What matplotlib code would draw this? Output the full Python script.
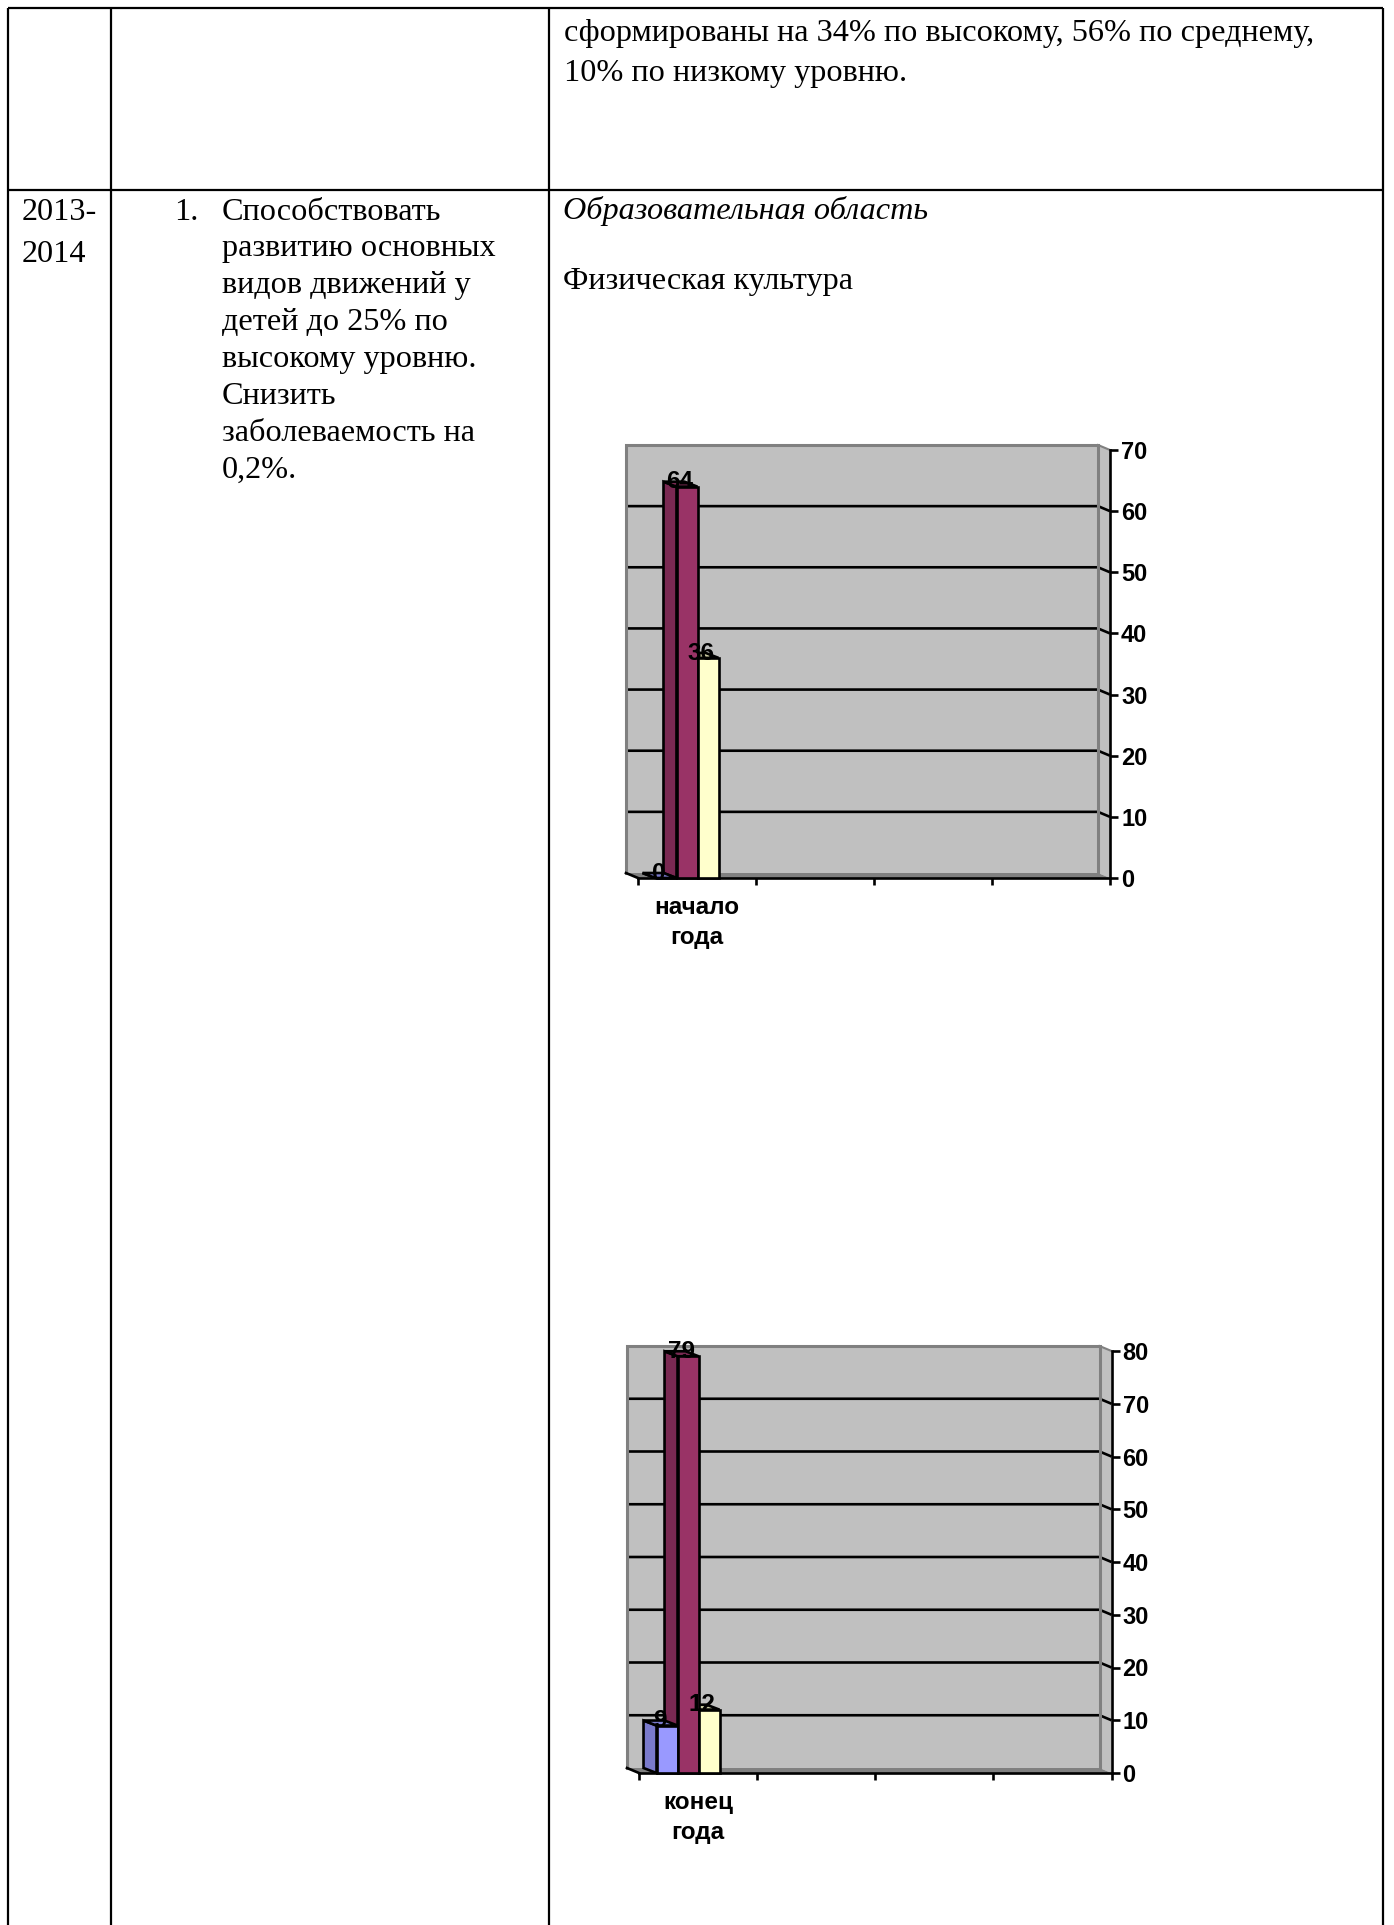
import matplotlib
matplotlib.use("Agg")
import matplotlib.pyplot as plt
from matplotlib.patches import Polygon

# --- Data ---
SERIES_COLORS = ["#9999FF", "#993366", "#FFFFCC"]
SIDE_COLORS = ["#7A7ACC", "#7A2952", "#CCCCA3"]

CHART1_CATEGORY = "начало\nгода"
CHART1_VALUES = [0, 64, 36]
CHART1_TICKS = [0, 10, 20, 30, 40, 50, 60, 70]

CHART2_CATEGORY = "конец\nгода"
CHART2_VALUES = [9, 79, 12]
CHART2_TICKS = [0, 10, 20, 30, 40, 50, 60, 70, 80]

YEAR_LINES = ["2013-", "2014"]
GOAL_LINES = ["Способствовать", "развитию основных", "видов движений у", "детей до 25% по",
              "высокому уровню.", "Снизить", "заболеваемость на", "0,2%."]
TOP_LINES = ["сформированы на 34% по высокому, 56% по среднему,", "10% по низкому уровню."]

# --- Page layout (pixels) ---
W, H = 1394, 1925
DPI = 100
SERIF = "Liberation Serif"
ARIAL = "Liberation Sans"
BODY_SIZE = 23.2
CHART_SIZE = 17.5
TICK_SIZE = 17
LINE = 1.9

fig = plt.figure(figsize=(W / DPI, H / DPI), dpi=DPI, facecolor="white")
page = fig.add_axes([0, 0, 1, 1], zorder=0)
page.set_xlim(0, W)
page.set_ylim(H, 0)
page.axis("off")

# table rules
for x in [8, 111, 549, 1383]:
    page.plot([x, x], [7.5, H], color="black", lw=1.6, solid_capstyle="butt")
for y in [7.5, 190]:
    page.plot([8, 1383], [y, y], color="black", lw=1.6, solid_capstyle="butt")

# table text
def body(x, y, s, **kw):
    page.text(x, y, s, family=SERIF, fontsize=BODY_SIZE, va="baseline", ha="left", color="black", **kw)

for i, line in enumerate(TOP_LINES):
    body(563.5, 41.5 + i * 40, line)
for i, line in enumerate(YEAR_LINES):
    body(22, 219.5 + i * 43, line)
body(174, 219.5, "1.")
for i, line in enumerate(GOAL_LINES):
    body(222, 219.5 + i * 36.9, line)
body(563, 219.5, "Образовательная область", style="italic")
body(563, 289.5, "Физическая культура")


def draw_chart(left, right, top, bottom, values, ticks, category):
    ax = fig.add_axes([left / W, 1 - bottom / H, (right - left) / W, (bottom - top) / H], zorder=1)
    ymax = ticks[-1]
    ax.set_xlim(0, 4)
    ax.set_ylim(0, ymax)
    ax.patch.set_visible(False)

    # pixels to data units for the fake 3D depth
    px_x = 4 / (right - left)
    px_y = ymax / (bottom - top)
    wall_dx, wall_dy = -12 * px_x, 5 * px_y
    bar_dx, bar_dy = -13 * px_x, 5 * px_y

    # back wall, side wall, floor
    ax.add_patch(Polygon([(wall_dx, wall_dy), (4 + wall_dx, wall_dy), (4 + wall_dx, ymax + wall_dy), (wall_dx, ymax + wall_dy)],
                         fc="#C0C0C0", ec="none", clip_on=False, zorder=1))
    ax.add_patch(Polygon([(4 + wall_dx, wall_dy), (4, 0), (4, ymax), (4 + wall_dx, ymax + wall_dy)],
                         fc="#C0C0C0", ec="none", clip_on=False, zorder=1))
    ax.add_patch(Polygon([(wall_dx, wall_dy), (4 + wall_dx, wall_dy), (4, 0), (0, 0)],
                         fc="#808080", ec="none", clip_on=False, zorder=1))
    # gridlines on the wall, then the step over to the axis
    for t in ticks[1:-1]:
        ax.plot([wall_dx, 4 + wall_dx, 4], [t + wall_dy, t + wall_dy, t], color="black", lw=LINE,
                clip_on=False, zorder=1.4, solid_capstyle="butt")
    ax.plot([wall_dx, 0], [wall_dy, 0], color="black", lw=LINE, clip_on=False, zorder=2)

    # gray wall edges
    ax.plot([wall_dx, wall_dx, 4 + wall_dx, 4 + wall_dx], [wall_dy, ymax + wall_dy, ymax + wall_dy, wall_dy],
            color="#808080", lw=2.2, clip_on=False, zorder=1.5, solid_joinstyle="miter")
    ax.plot([4 + wall_dx, 4], [ymax + wall_dy, ymax], color="#808080", lw=1.5, clip_on=False, zorder=1.5)

    # bars
    bar_w = 21 / 118
    bar_start = 17.5 / 118
    for i, v in enumerate(values):
        x0 = bar_start + i * bar_w
        x1 = x0 + bar_w
        ax.add_patch(Polygon([(x0, 0), (x0, v), (x0 + bar_dx, v + bar_dy), (x0 + bar_dx, bar_dy)],
                             fc=SIDE_COLORS[i], ec="black", lw=LINE, clip_on=False, zorder=3 - i * 0.1))
        ax.add_patch(Polygon([(x0, v), (x1, v), (x1 + bar_dx, v + bar_dy), (x0 + bar_dx, v + bar_dy)],
                             fc=SIDE_COLORS[i], ec="black", lw=LINE, clip_on=False, zorder=3 - i * 0.1))
    for i, v in enumerate(values):
        x0 = bar_start + i * bar_w
        ax.bar(x0, v, width=bar_w, align="edge", color=SERIES_COLORS[i], edgecolor="black", lw=LINE,
               clip_on=False, zorder=4)
    for i, v in enumerate(values):
        xc = bar_start + (i + 0.5) * bar_w
        ax.annotate(str(v), (xc, v), xytext=(-5, 3.5), textcoords="offset points", ha="center", va="center",
                    family=ARIAL, fontsize=CHART_SIZE, fontweight="bold", color="black", zorder=6,
                    annotation_clip=False)

    # axes
    for name in ["top", "left"]:
        ax.spines[name].set_visible(False)
    for name in ["bottom", "right"]:
        ax.spines[name].set_linewidth(LINE)
        ax.spines[name].set_zorder(3.5)
    ax.yaxis.tick_right()
    ax.set_yticks(ticks)
    ax.set_yticklabels([str(t) for t in ticks], family=ARIAL, fontsize=TICK_SIZE, fontweight="bold")
    ax.tick_params(axis="y", length=5.5, width=LINE, pad=2.5)
    ax.set_xticks([0, 1, 2, 3, 4])
    ax.set_xticklabels([])
    ax.tick_params(axis="x", length=5, width=LINE)
    ax.set_xticks([0.5], [category], minor=True, family=ARIAL, fontsize=CHART_SIZE, fontweight="bold",
                  linespacing=1.37)
    ax.tick_params(axis="x", which="minor", length=0, pad=13)


draw_chart(638, 1110, 450, 878, CHART1_VALUES, CHART1_TICKS, CHART1_CATEGORY)
draw_chart(639, 1111.5, 1351, 1773, CHART2_VALUES, CHART2_TICKS, CHART2_CATEGORY)

fig.savefig("out.png", dpi=DPI, facecolor="white")
